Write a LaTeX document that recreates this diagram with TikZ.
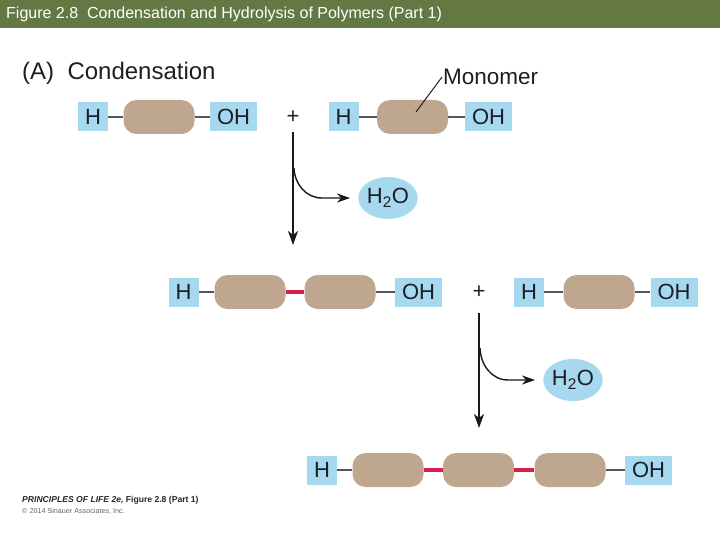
\documentclass[tikz,border=0pt]{standalone}
\usepackage{fontspec}
\setmainfont{Liberation Sans}
\usetikzlibrary{arrows.meta}
\usetikzlibrary{shapes.geometric}
\definecolor{barolive}{RGB}{100,120,68}
\definecolor{grpblue}{RGB}{166,217,239}
\definecolor{unittan}{RGB}{190,166,143}
\definecolor{linkred}{RGB}{214,32,73}
\definecolor{inkc}{RGB}{28,30,36}
\definecolor{bondgray}{RGB}{85,85,85}
\tikzset{
  grp/.style={fill=grpblue, inner sep=0pt, minimum height=29pt, text=inkc, font=\fontsize{22}{22}\selectfont},
  hgrp/.style={grp, minimum width=30pt},
  ohgrp/.style={grp, minimum width=47pt},
  unit/.style={fill=unittan, rounded corners=13pt, minimum width=71pt, minimum height=34pt, inner sep=0pt},
  bond/.style={draw=bondgray, line width=1.2pt},
  link/.style={draw=linkred, line width=4.5pt},
  water/.style={ellipse, fill=grpblue, inner sep=0pt, minimum width=59pt, minimum height=42pt, text=inkc, font=\fontsize{22}{22}\selectfont},
  plus/.style={inner sep=1pt, text=inkc, font=\fontsize{22}{22}\selectfont},
  rxn/.style={draw=black!90, line width=2pt, -{Stealth[length=14pt,width=10pt,inset=4pt]}},
  branch/.style={draw=black!90, line width=1.4pt, -{Stealth[length=13pt,width=9pt,inset=4pt]}, shorten >=8pt}
}
\begin{document}
\begin{tikzpicture}[x=1pt,y=-1pt]
\useasboundingbox (0,0) rectangle (720,540);
\fill[barolive] (0,0) rectangle (720,28);
\node[anchor=west, inner sep=0pt, text=white, font=\fontsize{16}{16}\selectfont] (title) at (6,14) {Figure 2.8\ \ Condensation and Hydrolysis of Polymers (Part 1)};
\node[anchor=base west, inner sep=0pt, text=inkc, font=\fontsize{24}{24}\selectfont] (partA) at (22,80) {(A)\ \ Condensation};

\node[hgrp] (h1) at (93,117) {H};
\node[unit] (u1) at (159,117) {};
\node[ohgrp] (oh1) at (233.5,117) {OH};
\draw[bond] (h1) -- (u1);
\draw[bond] (u1) -- (oh1);
\node[plus] (p1) at (293,117) {+};
\node[hgrp] (h2) at (343.5,117) {H};
\node[unit] (u2) at (412.5,117) {};
\node[ohgrp] (oh2) at (488.5,117) {OH};
\draw[bond] (h2) -- (u2);
\draw[bond] (u2) -- (oh2);
\node[anchor=west, inner sep=1pt, text=inkc, font=\fontsize{22.5}{22.5}\selectfont] (monolbl) at (442,77) {Monomer};
\coordinate (mtip) at (416,112);
\draw[draw=inkc, line width=1pt] (mtip) -- (monolbl.west);

\coordinate (s1) at (293,132);
\coordinate (e1) at (293,245);
\draw[rxn] (s1) -- (e1);
\node[water] (w1) at (388,198) {H\textsubscript{2}O};
\coordinate (k1) at (294,168);
\coordinate (c1) at (322,198);
\draw[branch] (k1) to[out=-88,in=180] (c1) -- (w1);

\node[hgrp] (h3) at (183.5,292) {H};
\node[unit] (u3) at (250,292) {};
\node[unit] (u4) at (340,292) {};
\node[ohgrp] (oh3) at (418.5,292) {OH};
\draw[bond] (h3) -- (u3);
\draw[link] (u3) -- (u4);
\draw[bond] (u4) -- (oh3);
\node[plus] (p2) at (479,292) {+};
\node[hgrp] (h4) at (529,292) {H};
\node[unit] (u5) at (599,292) {};
\node[ohgrp] (oh4) at (674,292) {OH};
\draw[bond] (h4) -- (u5);
\draw[bond] (u5) -- (oh4);

\coordinate (s2) at (479,313);
\coordinate (e2) at (479,428);
\draw[rxn] (s2) -- (e2);
\node[water] (w2) at (573,380) {H\textsubscript{2}O};
\coordinate (k2) at (480,348);
\coordinate (c2) at (508,380);
\draw[branch] (k2) to[out=-88,in=180] (c2) -- (w2);

\node[hgrp] (h5) at (322,470) {H};
\node[unit] (u6) at (388,470) {};
\node[unit] (u7) at (478.5,470) {};
\node[unit] (u8) at (570,470) {};
\node[ohgrp] (oh5) at (648.5,470) {OH};
\draw[bond] (h5) -- (u6);
\draw[link] (u6) -- (u7);
\draw[link] (u7) -- (u8);
\draw[bond] (u8) -- (oh5);

\node[anchor=base west, inner sep=0pt, text=black!85, font=\fontsize{8.6}{8.6}\selectfont\bfseries] (credit) at (22,502) {\textit{PRINCIPLES OF LIFE 2e,} Figure 2.8 (Part 1)};
\node[anchor=base west, inner sep=0pt, text=black!60, font=\fontsize{7.2}{7.2}\selectfont] (copy) at (22,513) {© 2014 Sinauer Associates, Inc.};
\end{tikzpicture}
\end{document}
